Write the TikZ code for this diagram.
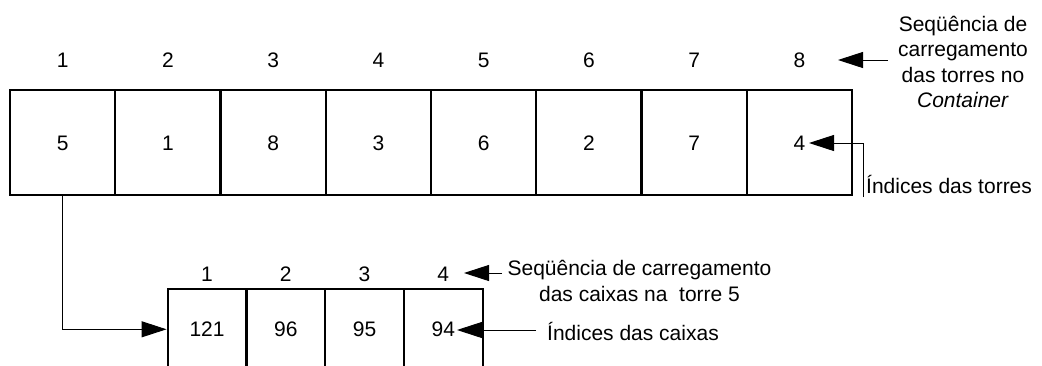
\documentclass[tikz,border=0pt]{standalone}
\usepackage{fontspec}
\setmainfont{Liberation Sans}
\usetikzlibrary{arrows.meta}
\begin{document}
\begin{tikzpicture}[x=1pt,y=-1pt,
  every node/.style={font=\fontsize{21}{25.3}\selectfont, inner sep=0pt},
  topcell/.style={draw, line width=2.3pt, minimum width=105.25pt, minimum height=105pt, text height=15pt, text depth=0pt},
  botcell/.style={draw, line width=2.3pt, minimum width=78.75pt, minimum height=80pt, text height=15pt, text depth=0pt},
  num/.style={text height=15pt, text depth=0pt},
  arr/.style={line width=1pt, -{Triangle[length=25pt,width=16pt]}},
  lbl/.style={anchor=base west}]
\clip (0,0) rectangle (1042,365);
% top row of towers
\foreach \i/\v in {1/5,2/1,3/8,4/3,5/6,6/2,7/7,8/4}{
  \node[topcell] (t\i) at ({10+105.25*(\i-0.5)},142.5) {\v};
  \node[num] (n\i) at ({10+105.25*(\i-0.5)},60) {\i};
}
% bottom row of boxes
\foreach \i/\v in {1/121,2/96,3/95,4/94}{
  \node[botcell] (b\i) at ({167.7+78.75*(\i-0.5)},329.3) {\v};
  \node[num] (m\i) at ({167.7+78.75*(\i-0.5)},274) {\i};
}
% labels
\node[align=center] (seqT) at (963,62) {Seqüência de\\carregamento\\das torres no\\\textit{Container}};
\node[lbl] (idxT) at (866,193.5) {Índices das torres};
\node[align=center] (seqB) at (639.5,281) {Seqüência de carregamento\\das caixas na\ \ torre 5};
\node[lbl] (idxB) at (547,340) {Índices das caixas};
% connector end points
\coordinate (a1s) at (888,60);
\coordinate (a1e) at (838,60);
\coordinate (a2s) at (863,197);
\coordinate (a2e) at (809,143);
\coordinate (a3s) at (502,273);
\coordinate (a3e) at (464,273);
\coordinate (a4s) at (536,330);
\coordinate (a4e) at (457,330);
% connectors
\draw[arr] (a1s) -- (a1e);
\draw[arr] (a2s) |- (a2e);
\draw[arr] (a3s) -- (a3e);
\draw[arr] (a4s) -- (a4e);
\draw[arr] (t1.south) |- (b1.west);
\end{tikzpicture}
\end{document}
